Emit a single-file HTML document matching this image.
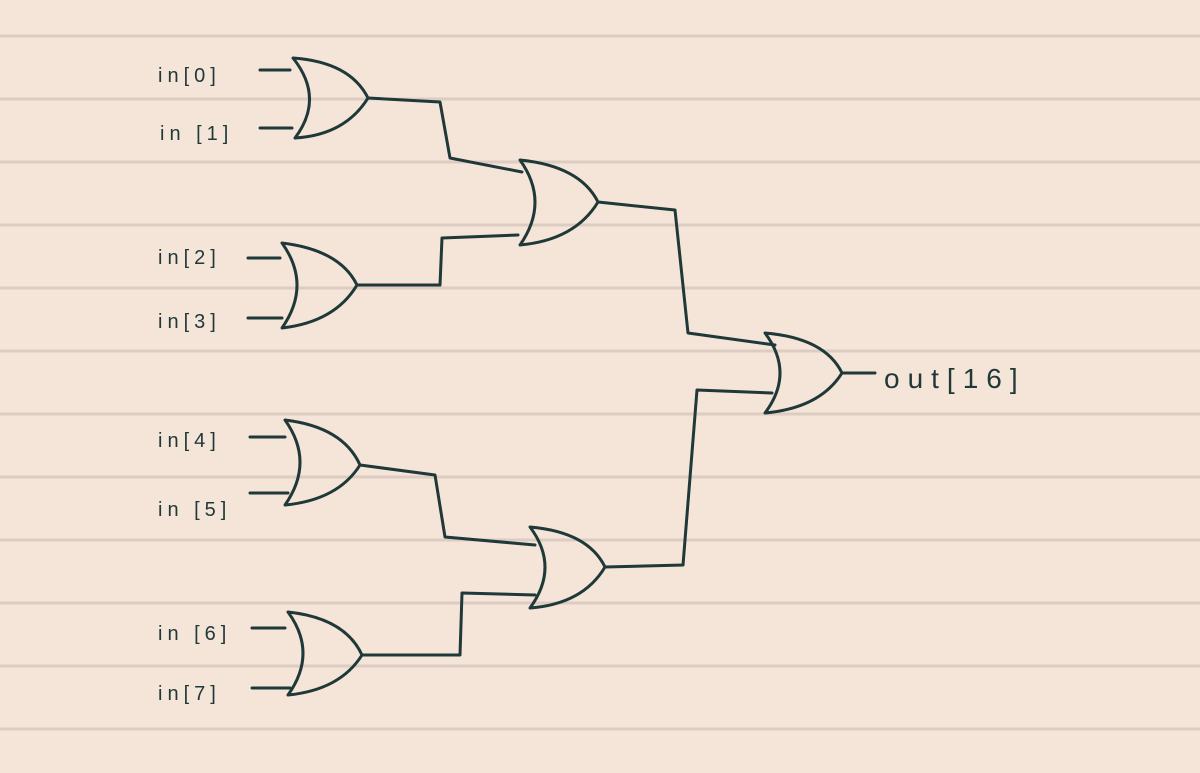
<!DOCTYPE html>
<html><head><style>
body{margin:0;width:1200px;height:773px;overflow:hidden;background:#f5e4d8;}
svg{display:block}
text{font-family:"Liberation Sans",sans-serif;fill:#1f3838;font-size:20px;letter-spacing:5px}
</style></head><body>
<svg width="1200" height="773" viewBox="0 0 1200 773">
<g stroke="#dcccc2" stroke-width="3">
<line x1="0" x2="1200" y1="36" y2="36"/><line x1="0" x2="1200" y1="99" y2="99"/>
<line x1="0" x2="1200" y1="162" y2="162"/><line x1="0" x2="1200" y1="225" y2="225"/>
<line x1="0" x2="1200" y1="288" y2="288"/><line x1="0" x2="1200" y1="351" y2="351"/>
<line x1="0" x2="1200" y1="414" y2="414"/><line x1="0" x2="1200" y1="477" y2="477"/>
<line x1="0" x2="1200" y1="540" y2="540"/><line x1="0" x2="1200" y1="603" y2="603"/>
<line x1="0" x2="1200" y1="666" y2="666"/><line x1="0" x2="1200" y1="729" y2="729"/>
</g>
<g fill="none" stroke="#1f3838" stroke-width="3" stroke-linecap="round" stroke-linejoin="round">
<path d="M293,58 Q350,62 368,98 Q345,135 295,138 Q325,98 293,58Z"/>
<path d="M282,243 Q340,250 357,285 Q335,322 282,328 Q312,285 282,243Z"/>
<path d="M285,420 Q343,427 360,465 Q338,500 285,505 Q315,462 285,420Z"/>
<path d="M288,612 Q345,618 362,655 Q340,690 288,695 Q318,653 288,612Z"/>
<path d="M520,160 Q580,166 598,202 Q575,240 520,245 Q550,202 520,160Z"/>
<path d="M530,527 Q588,532 605,567 Q583,604 530,608 Q560,567 530,527Z"/>
<path d="M765,333 Q825,338 842,373 Q820,408 765,413 Q795,373 765,333Z"/>
<path d="M260,70 H290 M260,128 H292 M248,258 H280 M248,318 H282 M250,437 H285 M250,493 H288 M252,628 H285 M252,688 H290"/>
<path d="M368,98 L440,102 L450,158 L522,172"/>
<path d="M357,285 L440,285 L442,238 L518,235"/>
<path d="M598,202 L675,210 L688,333 L775,345"/>
<path d="M360,465 L435,475 L445,537 L535,545"/>
<path d="M362,655 L460,655 L462,593 L535,595"/>
<path d="M605,567 L683,565 L697,390 L772,393"/>
<path d="M842,373 L875,373"/>
</g>
<text x="158" y="82">in[0]</text>
<text x="160" y="140">in [1]</text>
<text x="158" y="264">in[2]</text>
<text x="158" y="328">in[3]</text>
<text x="158" y="447">in[4]</text>
<text x="158" y="516">in [5]</text>
<text x="158" y="640">in [6]</text>
<text x="158" y="700">in[7]</text>
<text x="884" y="388" style="font-size:28px;letter-spacing:8px">out[16]</text>
</svg>
</body></html>
